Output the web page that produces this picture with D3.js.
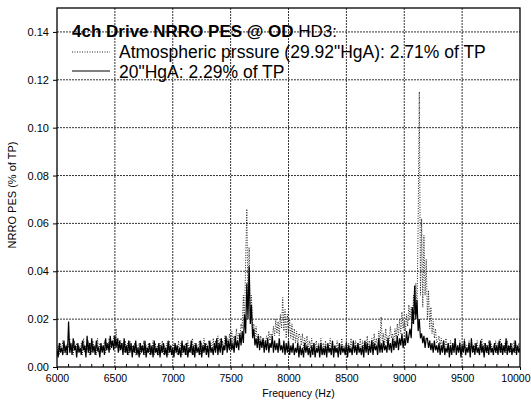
<!DOCTYPE html>
<html><head><meta charset="utf-8">
<script src="https://cdn.jsdelivr.net/npm/d3@7"></script>
<style>body{margin:0;background:#fff}svg{display:block}text{font-family:"Liberation Sans",Arial,sans-serif;fill:#000}</style>
</head><body><svg id="c" width="531" height="401"></svg>
<script>
const freqStart = 6000, freqStep = 10;
const xTicks = [6000,6500,7000,7500,8000,8500,9000,9500,10000];
const yTicks = [0.00,0.02,0.04,0.06,0.08,0.10,0.12,0.14];
const seriesNames = ["Atmospheric prssure (29.92\"HgA): 2.71% of TP", "20\"HgA: 2.29% of TP"];
const titleBold = "4ch Drive NRRO PES @ OD";
const titleRest = " HD3:";
// 20"HgA (solid), 6000..10000 Hz every 10 Hz
const hga20 = [
0.007,0.004,0.010,0.006,0.008,0.005,0.011,0.006,0.009,0.005,
0.019,0.006,0.010,0.005,0.012,0.007,0.009,0.004,0.010,0.006,
0.008,0.005,0.011,0.007,0.009,0.004,0.013,0.006,0.010,0.005,
0.012,0.006,0.009,0.005,0.011,0.007,0.008,0.004,0.010,0.006,
0.009,0.005,0.012,0.007,0.010,0.006,0.013,0.008,0.011,0.007,
0.013,0.008,0.012,0.006,0.011,0.007,0.010,0.005,0.012,0.006,
0.009,0.005,0.011,0.006,0.010,0.004,0.009,0.006,0.011,0.005,
0.008,0.004,0.010,0.006,0.009,0.005,0.011,0.004,0.008,0.006,
0.010,0.005,0.009,0.004,0.011,0.006,0.008,0.005,0.010,0.004,
0.009,0.006,0.010,0.005,0.008,0.004,0.011,0.006,0.009,0.005,
0.008,0.004,0.010,0.006,0.009,0.005,0.008,0.004,0.011,0.006,
0.009,0.005,0.010,0.004,0.008,0.006,0.011,0.005,0.009,0.004,
0.010,0.006,0.008,0.005,0.011,0.004,0.009,0.006,0.010,0.005,
0.009,0.004,0.011,0.006,0.008,0.005,0.010,0.006,0.012,0.005,
0.010,0.006,0.012,0.005,0.009,0.007,0.013,0.006,0.011,0.007,
0.012,0.007,0.010,0.006,0.013,0.008,0.011,0.007,0.014,0.009,
0.015,0.010,0.022,0.014,0.035,0.020,0.042,0.018,0.026,0.012,
0.016,0.009,0.012,0.008,0.013,0.007,0.011,0.008,0.012,0.006,
0.011,0.007,0.012,0.006,0.010,0.008,0.013,0.006,0.011,0.007,
0.010,0.006,0.012,0.007,0.009,0.006,0.011,0.005,0.010,0.006,
0.011,0.005,0.009,0.006,0.010,0.005,0.008,0.006,0.010,0.004,
0.009,0.005,0.008,0.004,0.010,0.006,0.009,0.005,0.008,0.004,
0.009,0.005,0.010,0.004,0.008,0.006,0.009,0.004,0.010,0.005,
0.008,0.005,0.009,0.004,0.010,0.006,0.008,0.005,0.011,0.004,
0.009,0.006,0.008,0.004,0.010,0.005,0.009,0.006,0.008,0.005,
0.010,0.004,0.009,0.006,0.008,0.005,0.011,0.006,0.009,0.005,
0.010,0.006,0.008,0.005,0.009,0.004,0.011,0.006,0.010,0.005,
0.009,0.006,0.011,0.005,0.010,0.007,0.009,0.005,0.012,0.006,
0.010,0.006,0.011,0.007,0.009,0.006,0.012,0.007,0.010,0.006,
0.012,0.007,0.011,0.008,0.013,0.007,0.012,0.009,0.014,0.008,
0.012,0.009,0.015,0.010,0.013,0.016,0.012,0.025,0.018,0.034,
0.020,0.028,0.015,0.020,0.012,0.014,0.010,0.013,0.008,0.012,
0.012,0.008,0.011,0.007,0.010,0.006,0.011,0.007,0.009,0.006,
0.010,0.005,0.009,0.006,0.011,0.005,0.008,0.006,0.010,0.004,
0.009,0.005,0.010,0.006,0.012,0.005,0.009,0.006,0.010,0.004,
0.009,0.006,0.011,0.005,0.008,0.006,0.010,0.004,0.012,0.006,
0.009,0.005,0.010,0.006,0.008,0.005,0.011,0.006,0.009,0.004,
0.010,0.006,0.009,0.005,0.011,0.006,0.008,0.005,0.010,0.006,
0.009,0.005,0.011,0.006,0.010,0.005,0.009,0.006,0.012,0.005,
0.009,0.006,0.010,0.005,0.008,0.006,0.011,0.005,0.009,0.006,
0.008];
// Atmospheric (dotted), 6000..10000 Hz every 10 Hz
const atmos = [
0.006,0.009,0.005,0.010,0.007,0.011,0.006,0.008,0.005,0.010,
0.008,0.012,0.006,0.009,0.005,0.011,0.007,0.010,0.006,0.009,
0.007,0.010,0.005,0.012,0.006,0.009,0.007,0.011,0.005,0.010,
0.006,0.011,0.007,0.009,0.005,0.012,0.006,0.010,0.007,0.009,
0.007,0.011,0.006,0.010,0.008,0.012,0.007,0.011,0.009,0.013,
0.008,0.016,0.009,0.012,0.007,0.011,0.008,0.010,0.006,0.011,
0.006,0.010,0.005,0.011,0.007,0.009,0.006,0.010,0.005,0.009,
0.006,0.010,0.005,0.009,0.007,0.011,0.005,0.009,0.006,0.010,
0.005,0.009,0.006,0.011,0.005,0.010,0.006,0.009,0.005,0.010,
0.006,0.011,0.005,0.009,0.006,0.010,0.005,0.011,0.006,0.009,
0.005,0.010,0.006,0.009,0.005,0.011,0.006,0.010,0.005,0.009,
0.006,0.010,0.005,0.011,0.007,0.009,0.006,0.012,0.005,0.010,
0.006,0.009,0.007,0.011,0.005,0.010,0.006,0.012,0.007,0.010,
0.006,0.011,0.007,0.010,0.006,0.012,0.007,0.011,0.008,0.013,
0.007,0.012,0.008,0.011,0.007,0.013,0.009,0.012,0.008,0.014,
0.009,0.015,0.010,0.013,0.009,0.016,0.011,0.014,0.012,0.018,
0.016,0.030,0.018,0.045,0.066,0.025,0.050,0.020,0.030,0.015,
0.018,0.012,0.017,0.011,0.014,0.010,0.013,0.009,0.012,0.010,
0.009,0.013,0.010,0.015,0.011,0.014,0.012,0.017,0.013,0.020,
0.014,0.019,0.013,0.022,0.016,0.029,0.015,0.024,0.012,0.022,
0.013,0.020,0.012,0.018,0.011,0.016,0.010,0.015,0.009,0.014,
0.013,0.009,0.014,0.008,0.012,0.009,0.013,0.007,0.011,0.008,
0.012,0.007,0.010,0.008,0.011,0.006,0.010,0.007,0.012,0.006,
0.010,0.007,0.011,0.006,0.009,0.007,0.012,0.006,0.010,0.007,
0.009,0.006,0.011,0.007,0.010,0.006,0.012,0.007,0.009,0.006,
0.011,0.007,0.010,0.006,0.012,0.007,0.009,0.008,0.011,0.006,
0.010,0.007,0.012,0.006,0.011,0.008,0.010,0.007,0.013,0.008,
0.011,0.007,0.012,0.008,0.014,0.009,0.012,0.008,0.015,0.010,
0.021,0.011,0.014,0.009,0.016,0.010,0.013,0.011,0.017,0.012,
0.014,0.010,0.016,0.012,0.018,0.013,0.020,0.014,0.023,0.016,
0.019,0.015,0.022,0.017,0.026,0.020,0.025,0.018,0.030,0.022,
0.035,0.022,0.060,0.115,0.030,0.062,0.025,0.055,0.030,0.045,
0.020,0.032,0.016,0.025,0.014,0.019,0.012,0.016,0.010,0.011,
0.013,0.009,0.012,0.008,0.011,0.007,0.012,0.008,0.010,0.007,
0.011,0.006,0.010,0.007,0.012,0.006,0.009,0.007,0.011,0.006,
0.010,0.007,0.012,0.006,0.009,0.007,0.011,0.006,0.010,0.008,
0.006,0.010,0.007,0.011,0.006,0.009,0.007,0.012,0.006,0.010,
0.007,0.009,0.006,0.011,0.007,0.010,0.006,0.009,0.007,0.011,
0.006,0.010,0.007,0.012,0.006,0.009,0.007,0.010,0.006,0.011,
0.007,0.009,0.006,0.010,0.007,0.011,0.006,0.009,0.007,0.010,
0.008];

const svg = d3.select("#c");
const L = 57, R = 520, T = 8, B = 367;
const x = d3.scaleLinear().domain([6000,10000]).range([L,R]);
const y = d3.scaleLinear().domain([0,0.15]).range([B,T]);
const fq = i => freqStart + i*freqStep;

// grid
const g = svg.append("g");
g.selectAll(".gx").data(xTicks.slice(1,-1)).join("line")
  .attr("x1",d=>x(d)).attr("x2",d=>x(d)).attr("y1",T).attr("y2",B)
  .attr("stroke","#333").attr("stroke-width",1).attr("stroke-dasharray","2,1");
g.selectAll(".gy").data(yTicks.slice(1)).join("line")
  .attr("y1",d=>y(d)).attr("y2",d=>y(d)).attr("x1",L).attr("x2",R)
  .attr("stroke","#333").attr("stroke-width",1).attr("stroke-dasharray","2,1");

// series
const line = d3.line().x((d,i)=>x(fq(i))).y(d=>y(d));
svg.append("clipPath").attr("id","pc").append("rect").attr("x",L).attr("y",T).attr("width",R-L).attr("height",B-T);
svg.append("path").datum(atmos).attr("d",line).attr("fill","none")
  .attr("stroke","#222").attr("stroke-width",1).attr("stroke-dasharray","1,1.5").attr("clip-path","url(#pc)");
svg.append("path").datum(hga20).attr("d",line).attr("fill","none")
  .attr("stroke","#000").attr("stroke-width",1.2).attr("clip-path","url(#pc)");

// frame
svg.append("rect").attr("x",L).attr("y",T).attr("width",R-L).attr("height",B-T)
  .attr("fill","none").attr("stroke","#000").attr("stroke-width",1.3);

// axes
const xa = svg.append("g").attr("transform",`translate(0,${B})`)
  .call(d3.axisBottom(x).tickValues(xTicks).tickFormat(d3.format("d")).tickSize(3).tickSizeOuter(0));
xa.select(".domain").remove();
xa.selectAll("text").attr("font-size","10.5px").attr("dy","0.9em").style("font-family","Liberation Sans, Arial");
xa.selectAll(".tick").filter(d=>d===10000).select("text").attr("text-anchor","end").attr("x",10);
const minors = d3.range(6100,10000,100).filter(v=>v%500!==0);
svg.append("g").selectAll("line").data(minors).join("line")
  .attr("x1",d=>x(d)).attr("x2",d=>x(d)).attr("y1",B).attr("y2",B-3).attr("stroke","#000");
const ya = svg.append("g").attr("transform",`translate(${L},0)`)
  .call(d3.axisLeft(y).tickValues(yTicks).tickFormat(d3.format(".2f")).tickSize(4).tickSizeOuter(0));
ya.select(".domain").remove();
ya.selectAll("text").attr("font-size","11px").attr("dx","-1px").style("font-family","Liberation Sans, Arial");

// axis titles
svg.append("text").attr("x",(L+R)/2+10).attr("y",397).attr("text-anchor","middle")
  .attr("font-size","10.5px").text("Frequency (Hz)");
svg.append("text").attr("transform","translate(16,195) rotate(-90)").attr("text-anchor","middle")
  .attr("font-size","11px").text("NRRO PES (% of TP)");

// legend
const t = svg.append("text").attr("x",72).attr("y",37).attr("font-size","17px");
t.append("tspan").attr("font-weight","bold").text(titleBold);
t.append("tspan").text(titleRest);
svg.append("line").attr("x1",72).attr("x2",110).attr("y1",52).attr("y2",52)
  .attr("stroke","#222").attr("stroke-dasharray","1,1.5");
svg.append("line").attr("x1",72).attr("x2",110).attr("y1",71).attr("y2",71).attr("stroke","#000");
svg.append("text").attr("x",119).attr("y",58).attr("font-size","17.5px").text(seriesNames[0]);
svg.append("text").attr("x",119).attr("y",78).attr("font-size","17.5px").text(seriesNames[1]);
</script></body></html>
